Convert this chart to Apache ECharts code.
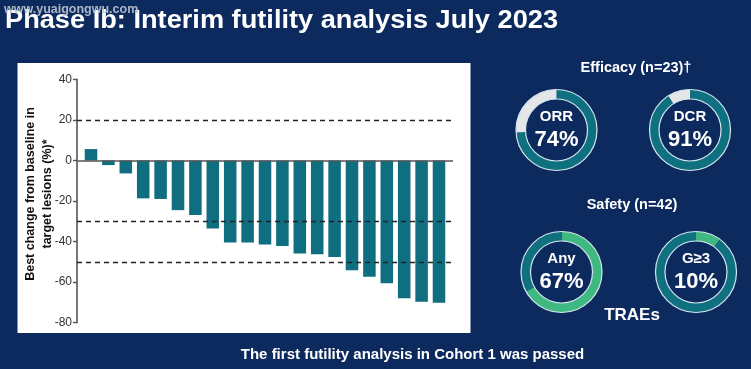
<!DOCTYPE html>
<html><head><meta charset="utf-8">
<script src="https://cdn.jsdelivr.net/npm/echarts@6/dist/echarts.min.js"></script>
<style>html,body{margin:0;padding:0;background:#0c2a5e;}#c{width:751px;height:369px;}</style>
</head><body><div id="c"></div>
<script>
// ---- data ----
const patients = ['P1','P2','P3','P4','P5','P6','P7','P8','P9','P10','P11','P12','P13','P14','P15','P16','P17','P18','P19','P20','P21'];
const bestChange = [5.6, -2.3, -6.4, -18.7, -19.0, -24.5, -26.9, -33.5, -40.4, -40.4, -41.4, -42.2, -45.9, -46.2, -47.6, -54.1, -57.3, -60.6, -67.9, -69.7, -70.2];
const yTicks = [-80, -60, -40, -20, 0, 20, 40];
const refLines = [20, -30, -50];
const efficacyNames = ['ORR', 'DCR'];
const efficacyValues = [74, 91];
const safetyNames = ['Any', 'G≥3'];
const safetyValues = [67, 10];

const TEAL = '#0f6f80', GRAY = '#e4e6e8', GREEN = '#3fb981', RING = '#0f7080';
const F = '"Liberation Sans", Arial, sans-serif';

const chart = echarts.init(document.getElementById('c'), null, {renderer: 'canvas'});

const gTop = 79.3, gH = 243.4;
function donut(center, val, colA, colB) {
  return {
    type: 'pie', center: center, radius: [31, 40.5], startAngle: 90, clockwise: true,
    silent: true, animation: false, label: {show: false}, labelLine: {show: false},
    itemStyle: {borderWidth: 0},
    data: [{value: val, itemStyle: {color: colA}}, {value: 100 - val, itemStyle: {color: colB}}]
  };
}
const pieCenters = [[556.5, 130], [690, 130], [561.5, 272], [696, 272]];

const graphics = [
  {type: 'rect', z: -10, shape: {x: 17.5, y: 63, width: 453, height: 270}, style: {fill: '#ffffff'}},
  {type: 'text', x: 39, y: 194, rotation: Math.PI / 2, style: {
    text: 'Best change from baseline in\ntarget lesions (%)*', font: 'bold 12.5px ' + F, fill: '#111',
    textAlign: 'center', textVerticalAlign: 'middle', lineHeight: 16.5}},
  {type: 'text', x: 5, y: 21.5, scaleY: 0.92, style: {text: 'Phase Ib: Interim futility analysis July 2023',
    font: 'bold 27.2px ' + F, fill: '#ffffff', textVerticalAlign: 'middle'}},
  {type: 'text', x: 4, y: 10, style: {text: 'www.yuaigongwu.com', font: 'bold 12.5px ' + F, fill: 'rgba(190,196,208,0.9)', textVerticalAlign: 'middle'}},
  {type: 'text', x: 636, y: 68, style: {text: 'Efficacy (n=23)†', font: 'bold 14.5px ' + F, fill: '#fff', textAlign: 'center', textVerticalAlign: 'middle'}},
  {type: 'text', x: 632, y: 205, style: {text: 'Safety (n=42)', font: 'bold 14.5px ' + F, fill: '#fff', textAlign: 'center', textVerticalAlign: 'middle'}},
  {type: 'text', x: 632, y: 315, style: {text: 'TRAEs', font: 'bold 17px ' + F, fill: '#fff', textAlign: 'center', textVerticalAlign: 'middle'}},
  {type: 'text', x: 412.5, y: 355, style: {text: 'The first futility analysis in Cohort 1 was passed', font: 'bold 15px ' + F, fill: '#fff', textAlign: 'center', textVerticalAlign: 'middle'}}
];
const centerNames = efficacyNames.concat(safetyNames);
const centerVals = efficacyValues.concat(safetyValues);
pieCenters.forEach((c, i) => {
  graphics.push({type: 'circle', shape: {cx: c[0], cy: c[1], r: 40.5}, style: {fill: 'none', stroke: '#d5e6ef', lineWidth: 1.2}, z: 10});
  graphics.push({type: 'circle', shape: {cx: c[0], cy: c[1], r: 31}, style: {fill: 'none', stroke: '#d5e6ef', lineWidth: 1.2}, z: 10});
  graphics.push({type: 'text', x: c[0], y: c[1] - 13, style: {text: centerNames[i], font: 'bold 15px ' + F, fill: '#fff', textAlign: 'center', textVerticalAlign: 'middle'}, z: 10});
  graphics.push({type: 'text', x: c[0], y: c[1] + 10, style: {text: centerVals[i] + '%', font: 'bold 22px ' + F, fill: '#fff', textAlign: 'center', textVerticalAlign: 'middle'}, z: 10});
});

const option = {
  backgroundColor: '#0c2a5e',
  animation: false,
  grid: [
    {left: 82.3, width: 365.4, top: gTop, height: gH},
    {left: 77, width: 376, top: gTop, height: gH}
  ],
  xAxis: [
    {type: 'category', gridIndex: 0, data: patients, show: false, boundaryGap: true},
    {type: 'value', gridIndex: 1, min: 0, max: 1, show: false}
  ],
  yAxis: [
    {type: 'value', gridIndex: 0, min: -80, max: 40, interval: 20, show: false},
    {type: 'value', gridIndex: 1, min: yTicks[0], max: yTicks[yTicks.length - 1], interval: 20,
     axisLine: {show: true, lineStyle: {color: '#555', width: 1.6}},
     axisTick: {show: true, length: 4, lineStyle: {color: '#555', width: 1.4}},
     axisLabel: {color: '#333', fontSize: 12, fontFamily: F, margin: 5},
     splitLine: {show: false}}
  ],
  series: [
    {type: 'bar', xAxisIndex: 0, yAxisIndex: 0, data: bestChange, barCategoryGap: '28%',
     itemStyle: {color: TEAL}, silent: true, z: 3},
    {type: 'line', xAxisIndex: 1, yAxisIndex: 1, data: [], silent: true, z: 2,
     markLine: {silent: true, symbol: 'none', label: {show: false},
       data: refLines.map(v => ({yAxis: v, lineStyle: {color: '#222', type: [5, 4], width: 1.3}}))
         .concat([{yAxis: 0, lineStyle: {color: '#555', type: 'solid', width: 1.6}}])}},
    donut(pieCenters[0], efficacyValues[0], RING, GRAY),
    donut(pieCenters[1], efficacyValues[1], RING, GRAY),
    donut(pieCenters[2], safetyValues[0], GREEN, RING),
    donut(pieCenters[3], safetyValues[1], GREEN, RING)
  ],
  graphic: graphics
};
chart.setOption(option);
</script></body></html>
